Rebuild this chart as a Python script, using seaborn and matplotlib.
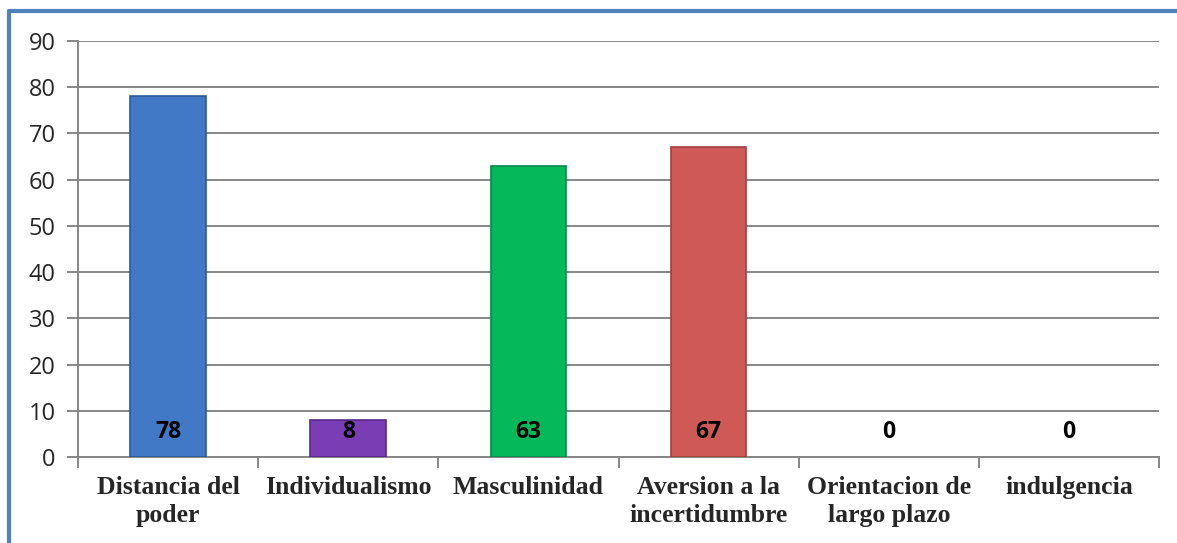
import matplotlib
matplotlib.use("Agg")
import matplotlib.pyplot as plt
import seaborn as sns
import pandas as pd
from matplotlib.lines import Line2D

# Hofstede dimensions
categories = ["Distancia del\npoder", "Individualismo", "Masculinidad",
              "Aversion a la\nincertidumbre", "Orientacion de\nlargo plazo", "indulgencia"]
values = [78, 8, 63, 67, 0, 0]
bar_colors = ["#4279c6", "#7b3db3", "#05b95a", "#cf5957", "#999999", "#999999"]
edge_colors = ["#2d5a9a", "#57288a", "#04884a", "#a23f3d", "#777777", "#777777"]
yticks = list(range(0, 100, 10))

df = pd.DataFrame({"cat": categories, "val": values})

sns.set_style("white")
fig = plt.figure(figsize=(11.77, 5.43), dpi=100)
ax = fig.add_axes([0.0663, 0.1584, 0.9184, 0.7661])

sns.barplot(data=df, x="cat", y="val", hue="cat", palette=bar_colors,
            legend=False, width=0.42, ax=ax, saturation=1)
for patch, ec, v in zip(ax.patches, edge_colors, values):
    patch.set_edgecolor(ec)
    patch.set_linewidth(1.2 if v > 0 else 0)
    patch.set_zorder(3)

ax.set_ylim(0, 90)
ax.set_xlim(-0.5, len(categories) - 0.5)
ax.set_yticks(yticks)
ax.yaxis.grid(True, color="#868686", linewidth=1.4)
ax.set_axisbelow(True)
ax.set_xlabel("")
ax.set_ylabel("")

for side in ["top", "right"]:
    ax.spines[side].set_visible(False)
for side in ["left", "bottom"]:
    ax.spines[side].set_color("#868686")
    ax.spines[side].set_linewidth(1.4)

# y ticks
ax.tick_params(axis="y", left=True, length=8, width=1.4, color="#868686",
               labelsize=17, pad=8)
for lbl in ax.get_yticklabels():
    lbl.set_family(["Open Sans", "DejaVu Sans"])

# x ticks at category boundaries, labels centered
ax.set_xticks([i - 0.5 for i in range(len(categories) + 1)], minor=True)
ax.tick_params(axis="x", which="minor", bottom=True, length=8, width=1.4, color="#868686")
ax.tick_params(axis="x", which="major", bottom=False, length=0, pad=14)
ax.set_xticks(range(len(categories)))
ax.set_xticklabels(categories, fontsize=18.5, fontweight="bold",
                   family="Liberation Serif", linespacing=1.25, va="top")

# value labels near the bottom of each bar
for i, v in enumerate(values):
    ax.text(i, 5.4, str(v), ha="center", va="center", fontsize=16.5,
            fontweight="bold", family="Open Sans", color="black", zorder=5)

# blue frame (top and left)
fig.add_artist(Line2D([9 / 1177, 1.0], [1 - 11 / 543, 1 - 11 / 543],
                      color="#4f81bd", linewidth=3, transform=fig.transFigure))
fig.add_artist(Line2D([9 / 1177, 9 / 1177], [0.0, 1 - 11 / 543],
                      color="#4f81bd", linewidth=3, transform=fig.transFigure))

fig.savefig("out.png", dpi=100)
plt.close(fig)
